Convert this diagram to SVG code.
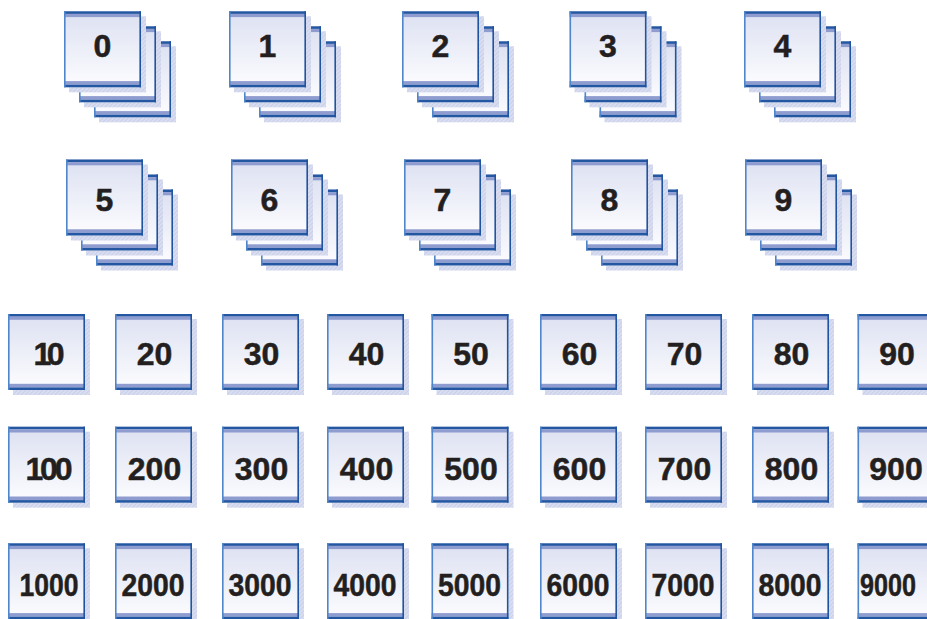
<svg xmlns="http://www.w3.org/2000/svg" xmlns:xlink="http://www.w3.org/1999/xlink" width="927" height="619" viewBox="0 0 927 619">
<style>
text{font-family:"Liberation Sans",Arial,sans-serif;font-weight:bold;font-size:32px;fill:#231f20;stroke:#231f20;stroke-width:0.5;text-anchor:middle}
</style>
<defs>
<linearGradient id="fill" x1="0" y1="0" x2="0" y2="1">
<stop offset="0" stop-color="#dce0f1"/>
<stop offset="1" stop-color="#fdfdff"/>
</linearGradient>
<pattern id="hatch" width="3" height="3" patternUnits="userSpaceOnUse" patternTransform="rotate(45)">
<rect width="3" height="3" fill="#d9ddf0"/>
<rect width="1" height="3" fill="#c9cfea"/>
</pattern>
<g id="card">
<rect x="5" y="5" width="77" height="76" fill="url(#hatch)"/>
<rect x="0" y="0" width="77" height="76" fill="url(#fill)"/>
<rect x="0" y="0" width="77" height="2.6" fill="#2457a2"/>
<rect x="0" y="2.6" width="77" height="3.2" fill="#8e9cd0"/>
<rect x="0" y="69.8" width="77" height="3.6" fill="#8e9cd0"/>
<rect x="0" y="73.4" width="77" height="2.6" fill="#2457a2"/>
<rect x="0" y="0" width="1.6" height="76" fill="#4f86cb"/>
<rect x="75.4" y="0" width="1.6" height="76" fill="#1f54a0"/>
</g>
<g id="stack">
<use xlink:href="#card" x="30" y="30"/>
<use xlink:href="#card" x="15" y="15"/>
<use xlink:href="#card" x="0" y="0"/>
</g>
</defs>
<g id="connectors"/>
<g id="n0"><use xlink:href="#stack" x="64" y="11.3"/><text x="102.5" y="57">0</text></g>
<g id="n1"><use xlink:href="#stack" x="229" y="11.3"/><text x="267.5" y="57">1</text></g>
<g id="n2"><use xlink:href="#stack" x="402" y="11.3"/><text x="440.5" y="57">2</text></g>
<g id="n3"><use xlink:href="#stack" x="569.5" y="11.3"/><text x="608" y="57">3</text></g>
<g id="n4"><use xlink:href="#stack" x="744" y="11.3"/><text x="782.5" y="57">4</text></g>
<g id="n5"><use xlink:href="#stack" x="66" y="159.5"/><text x="104.5" y="211">5</text></g>
<g id="n6"><use xlink:href="#stack" x="231" y="159.5"/><text x="269.5" y="211">6</text></g>
<g id="n7"><use xlink:href="#stack" x="404" y="159.5"/><text x="442.5" y="211">7</text></g>
<g id="n8"><use xlink:href="#stack" x="571" y="159.5"/><text x="609.5" y="211">8</text></g>
<g id="n9"><use xlink:href="#stack" x="745" y="159.5"/><text x="783.5" y="211">9</text></g>
<g id="n10"><use xlink:href="#card" x="8" y="314"/><text x="49" y="365" textLength="31" lengthAdjust="spacing">10</text></g>
<g id="n20"><use xlink:href="#card" x="115" y="314"/><text x="154.5" y="365">20</text></g>
<g id="n30"><use xlink:href="#card" x="222" y="314"/><text x="261.5" y="365">30</text></g>
<g id="n40"><use xlink:href="#card" x="327" y="314"/><text x="366.5" y="365">40</text></g>
<g id="n50"><use xlink:href="#card" x="431.5" y="314"/><text x="471" y="365">50</text></g>
<g id="n60"><use xlink:href="#card" x="540" y="314"/><text x="579.5" y="365">60</text></g>
<g id="n70"><use xlink:href="#card" x="645" y="314"/><text x="684.5" y="365">70</text></g>
<g id="n80"><use xlink:href="#card" x="752" y="314"/><text x="791.5" y="365">80</text></g>
<g id="n90"><use xlink:href="#card" x="857.5" y="314"/><text x="897" y="365">90</text></g>
<g id="n100"><use xlink:href="#card" x="8" y="426.7"/><text x="49" y="480" textLength="47" lengthAdjust="spacing">100</text></g>
<g id="n200"><use xlink:href="#card" x="115" y="426.7"/><text x="154.5" y="480">200</text></g>
<g id="n300"><use xlink:href="#card" x="222" y="426.7"/><text x="261.5" y="480">300</text></g>
<g id="n400"><use xlink:href="#card" x="327" y="426.7"/><text x="366.5" y="480">400</text></g>
<g id="n500"><use xlink:href="#card" x="431.5" y="426.7"/><text x="471" y="480">500</text></g>
<g id="n600"><use xlink:href="#card" x="540" y="426.7"/><text x="579.5" y="480">600</text></g>
<g id="n700"><use xlink:href="#card" x="645" y="426.7"/><text x="684.5" y="480">700</text></g>
<g id="n800"><use xlink:href="#card" x="752" y="426.7"/><text x="791.5" y="480">800</text></g>
<g id="n900"><use xlink:href="#card" x="857.5" y="426.7"/><text x="896" y="480">900</text></g>
<g id="n1000"><use xlink:href="#card" x="8" y="543.3"/><text x="49" y="596" textLength="59" lengthAdjust="spacingAndGlyphs">1000</text></g>
<g id="n2000"><use xlink:href="#card" x="115" y="543.3"/><text x="153" y="596" textLength="63" lengthAdjust="spacingAndGlyphs">2000</text></g>
<g id="n3000"><use xlink:href="#card" x="222" y="543.3"/><text x="260" y="596" textLength="63" lengthAdjust="spacingAndGlyphs">3000</text></g>
<g id="n4000"><use xlink:href="#card" x="327" y="543.3"/><text x="365" y="596" textLength="63" lengthAdjust="spacingAndGlyphs">4000</text></g>
<g id="n5000"><use xlink:href="#card" x="431.5" y="543.3"/><text x="469.5" y="596" textLength="63" lengthAdjust="spacingAndGlyphs">5000</text></g>
<g id="n6000"><use xlink:href="#card" x="540" y="543.3"/><text x="578" y="596" textLength="63" lengthAdjust="spacingAndGlyphs">6000</text></g>
<g id="n7000"><use xlink:href="#card" x="645" y="543.3"/><text x="683" y="596" textLength="63" lengthAdjust="spacingAndGlyphs">7000</text></g>
<g id="n8000"><use xlink:href="#card" x="752" y="543.3"/><text x="790" y="596" textLength="63" lengthAdjust="spacingAndGlyphs">8000</text></g>
<g id="n9000"><use xlink:href="#card" x="857.5" y="543.3"/><text x="888" y="596" textLength="56" lengthAdjust="spacingAndGlyphs">9000</text></g>
</svg>
